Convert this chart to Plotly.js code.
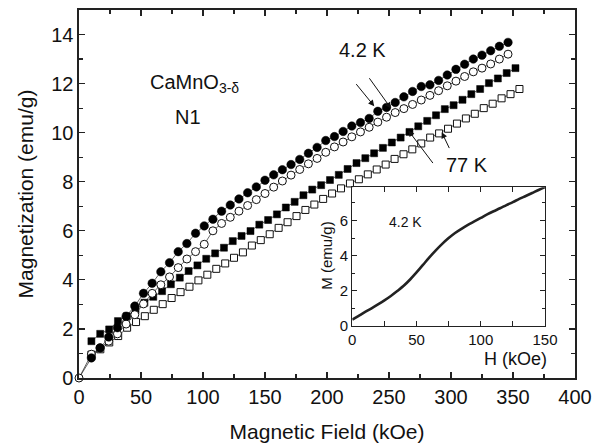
<!DOCTYPE html>
<html>
<head>
<meta charset="utf-8">
<script src="https://cdn.plot.ly/plotly-3.0.1.min.js"></script>
<style>html,body{margin:0;padding:0;background:#fff;}#chart{width:602px;height:444px;}</style>
</head>
<body>
<div id="chart"></div>
<script>
// 4.2 K, filled circles
const hFilledCircle = [10,17,24,31,38,45,52,59,66,73,80,87,94,101,108,115,122,129,136,143,150,157,164,171,178,185,192,199,206,213,220,227,234,241,248,255,262,269,276,283,290,297,304,311,318,325,332,339,346];
const mFilledCircle = [0.82,1.23,1.67,2.05,2.52,2.93,3.45,3.86,4.33,4.70,5.15,5.48,5.90,6.20,6.47,6.80,7.05,7.30,7.55,7.79,8.06,8.28,8.49,8.70,8.91,9.16,9.40,9.68,9.84,10.05,10.27,10.41,10.58,10.87,11.03,11.23,11.46,11.68,11.88,11.95,12.13,12.35,12.58,12.79,13.00,13.16,13.34,13.52,13.68];
// 4.2 K, open circles (first point is the origin)
const hOpenCircle = [0,10,17,24,31,38,45,52,59,66,73,80,87,94,101,108,115,122,129,136,143,150,157,164,171,178,185,192,199,206,213,220,227,234,241,248,255,262,269,276,283,290,297,304,311,318,325,332,339,346];
const mOpenCircle = [0,0.97,1.22,1.50,1.80,2.20,2.58,3.02,3.45,3.80,4.12,4.50,4.85,5.15,5.45,6.00,6.30,6.55,6.80,7.03,7.27,7.52,7.78,8.03,8.27,8.50,8.73,8.95,9.20,9.42,9.62,9.83,10.03,10.22,10.43,10.63,10.82,10.98,11.15,11.33,11.52,11.71,11.91,12.10,12.29,12.48,12.63,12.80,13.00,13.20];
// 77 K, filled squares
const hFilledSquare = [10.0,17.1,24.3,31.4,38.5,45.6,52.8,59.9,67.0,74.1,81.3,88.4,95.5,102.6,109.8,116.9,124.0,131.1,138.3,145.4,152.5,159.6,166.8,173.9,181.0,188.1,195.3,202.4,209.5,216.6,223.8,230.9,238.0,245.1,252.3,259.4,266.5,273.6,280.8,287.9,295.0,302.1,309.3,316.4,323.5,330.6,337.8,344.9,352.0];
const mFilledSquare = [1.50,1.80,1.98,2.32,2.52,2.77,3.07,3.31,3.54,3.82,4.09,4.36,4.59,4.86,5.08,5.31,5.58,5.79,5.99,6.25,6.44,6.67,6.95,7.18,7.45,7.68,7.86,8.07,8.28,8.52,8.76,8.96,9.16,9.38,9.60,9.80,10.03,10.26,10.48,10.71,10.96,11.12,11.34,11.57,11.78,12.02,12.21,12.43,12.63];
// 77 K, open squares
const hOpenSquare = [10.0,17.2,24.4,31.6,38.8,46.0,53.1,60.3,67.5,74.7,81.9,89.1,96.3,103.5,110.7,117.9,125.0,132.2,139.4,146.6,153.8,161.0,168.2,175.4,182.6,189.8,196.9,204.1,211.3,218.5,225.7,232.9,240.1,247.3,254.5,261.7,268.8,276.0,283.2,290.4,297.6,304.8,312.0,319.2,326.4,333.6,340.8,348.0,355.2];
const mOpenSquare = [0.95,1.17,1.45,1.71,2.05,2.28,2.52,2.78,3.01,3.26,3.50,3.72,3.98,4.21,4.45,4.67,4.90,5.12,5.40,5.62,5.86,6.12,6.35,6.60,6.85,7.07,7.30,7.52,7.73,7.93,8.10,8.30,8.50,8.70,8.93,9.12,9.32,9.56,9.80,9.97,10.16,10.37,10.58,10.77,11.00,11.18,11.40,11.57,11.78];
// Inset: 4.2 K, M vs H
const hInset = [0,5,10,15,20,25,30,35,40,45,50,55,60,65,70,75,80,85,90,95,100,105,110,115,120,125,130,135,140,145,150];
const mInset = [0.35,0.57,0.79,1.00,1.22,1.45,1.70,1.98,2.28,2.64,3.04,3.47,3.90,4.30,4.67,5.00,5.29,5.53,5.75,5.95,6.15,6.35,6.53,6.70,6.88,7.05,7.23,7.40,7.57,7.74,7.90];

const FONT = 'Liberation Sans, Arial, Helvetica, sans-serif';
const lineStyle = {color: '#222', width: 0.7};

const traces = [
  {x: hOpenSquare, y: mOpenSquare, mode: 'lines+markers', line: lineStyle,
   marker: {symbol: 'square', size: 7, color: '#ffffff', opacity: 1, line: {color: '#111', width: 1}}, xaxis: 'x', yaxis: 'y'},
  {x: hFilledSquare, y: mFilledSquare, mode: 'lines+markers', line: lineStyle,
   marker: {symbol: 'square', size: 7, color: '#000000', opacity: 1, line: {color: '#000', width: 0.5}}, xaxis: 'x', yaxis: 'y'},
  // thin connector from the origin point to the first filled circle
  {x: [hOpenCircle[0], hFilledCircle[0]], y: [mOpenCircle[0], mFilledCircle[0]], mode: 'lines', line: lineStyle, xaxis: 'x', yaxis: 'y'},
  {x: hOpenCircle, y: mOpenCircle, mode: 'lines+markers', line: lineStyle, cliponaxis: false,
   marker: {symbol: 'circle', size: 8, color: '#ffffff', opacity: 1, line: {color: '#111', width: 1}}, xaxis: 'x', yaxis: 'y'},
  {x: hFilledCircle, y: mFilledCircle, mode: 'lines+markers', line: lineStyle,
   marker: {symbol: 'circle', size: 8.5, color: '#000000', opacity: 1, line: {color: '#000', width: 0.5}}, xaxis: 'x', yaxis: 'y'},
  {x: hInset, y: mInset, mode: 'lines', line: {color: '#222', width: 2.6, shape: 'spline', smoothing: 1}, xaxis: 'x2', yaxis: 'y2'}
];

const arrowStyle = {showarrow: true, arrowhead: 2, arrowsize: 1.2, arrowwidth: 1, arrowcolor: '#111', text: '', axref: 'x', ayref: 'y', xref: 'x', yref: 'y'};

const layout = {
  width: 602, height: 444,
  margin: {l: 79, r: 27, t: 10, b: 65.5},
  paper_bgcolor: '#fff', plot_bgcolor: '#fff',
  showlegend: false,
  font: {family: FONT, color: '#111'},
  xaxis: {
    range: [0, 400], domain: [0, 1], anchor: 'y',
    tickvals: [0,50,100,150,200,250,300,350,400],
    ticks: 'inside', ticklen: 6, tickwidth: 1.2, tickcolor: '#222',
    minor: {dtick: 25, tick0: 0, ticks: 'inside', ticklen: 4, tickwidth: 1.2, tickcolor: '#222'},
    showline: true, linewidth: 1.6, linecolor: '#222', mirror: 'allticks',
    showgrid: false, zeroline: false,
    tickfont: {size: 20, family: FONT, color: '#111'},
    title: {text: 'Magnetic Field (kOe)', font: {size: 21, family: FONT, color: '#111'}, standoff: 18}
  },
  yaxis: {
    range: [0, 15], domain: [0, 1], anchor: 'x',
    tickvals: [0,2,4,6,8,10,12,14],
    ticks: 'inside', ticklen: 6, tickwidth: 1.2, tickcolor: '#222',
    minor: {dtick: 1, tick0: 0, ticks: 'inside', ticklen: 4, tickwidth: 1.2, tickcolor: '#222'},
    showline: true, linewidth: 1.6, linecolor: '#222', mirror: 'allticks',
    showgrid: false, zeroline: false,
    tickfont: {size: 20, family: FONT, color: '#111'},
    title: {text: 'Magnetization (emu/g)', font: {size: 21, family: FONT, color: '#111'}, standoff: 12}
  },
  xaxis2: {
    range: [0, 150], domain: [0.551, 0.9395], anchor: 'y2',
    tickvals: [0,50,100,150],
    ticks: 'inside', ticklen: 5, tickwidth: 1, tickcolor: '#222',
    minor: {dtick: 25, tick0: 0, ticks: 'inside', ticklen: 5, tickwidth: 1, tickcolor: '#222'},
    showline: true, linewidth: 1.3, linecolor: '#222', mirror: 'allticks',
    showgrid: false, zeroline: false,
    tickfont: {size: 15, family: FONT, color: '#111'}
  },
  yaxis2: {
    range: [0, 7.9], domain: [0.1418, 0.5185], anchor: 'x2',
    tickvals: [0,2,4,6],
    ticks: 'inside', ticklen: 5, tickwidth: 1, tickcolor: '#222',
    minor: {dtick: 1, tick0: 0, ticks: 'inside', ticklen: 3, tickwidth: 1, tickcolor: '#222'},
    showline: true, linewidth: 1.3, linecolor: '#222', mirror: 'allticks',
    showgrid: false, zeroline: false,
    tickfont: {size: 15, family: FONT, color: '#111'}
  },
  annotations: [
    {text: 'CaMnO<sub>3-δ</sub>', x: 148, y: 84, xanchor: 'left', yanchor: 'middle', showarrow: false, font: {size: 20, family: FONT, color: '#111'}},
    {text: 'N1', x: 188, y: 117, xanchor: 'center', yanchor: 'middle', showarrow: false, font: {size: 20, family: FONT, color: '#111'}},
    {text: '4.2 K', x: 362, y: 50, xanchor: 'center', yanchor: 'middle', showarrow: false, font: {size: 20, family: FONT, color: '#111'}},
    {text: '77 K', x: 467, y: 165, xanchor: 'center', yanchor: 'middle', showarrow: false, font: {size: 20, family: FONT, color: '#111'}},
    {text: '4.2 K', x: 405, y: 222, xanchor: 'center', yanchor: 'middle', showarrow: false, font: {size: 14, family: FONT, color: '#111'}},
    {text: 'H (kOe)', x: 515, y: 359, xanchor: 'center', yanchor: 'middle', showarrow: false, font: {size: 18, family: FONT, color: '#111'}},
    {text: 'M (emu/g)', x: 327, y: 256, xanchor: 'center', yanchor: 'middle', textangle: -90, showarrow: false, font: {size: 15, family: FONT, color: '#111'}},
    Object.assign({}, arrowStyle, {x: 238.1, y: 11.08, ax: 222.6, ay: 12.04}),
    Object.assign({}, arrowStyle, {x: 251.6, y: 10.99, ax: 233.3, ay: 12.28}),
    Object.assign({}, arrowStyle, {x: 265.6, y: 10.09, ax: 286.3, ay: 8.70}),
    Object.assign({}, arrowStyle, {x: 292.5, y: 10.02, ax: 299.2, ay: 9.31})
  ]
};

// text labels are placed in pixel space: convert to paper coordinates
const plotL = 79, plotW = 496, plotT = 10, plotH = 368.5;
layout.annotations.forEach(a => {
  if (!a.showarrow) {
    a.xref = 'paper'; a.yref = 'paper';
    a.x = (a.x - plotL) / plotW;
    a.y = 1 - (a.y - plotT) / plotH;
  }
});

Plotly.newPlot('chart', traces, layout, {displayModeBar: false, staticPlot: true});
</script>
</body>
</html>
